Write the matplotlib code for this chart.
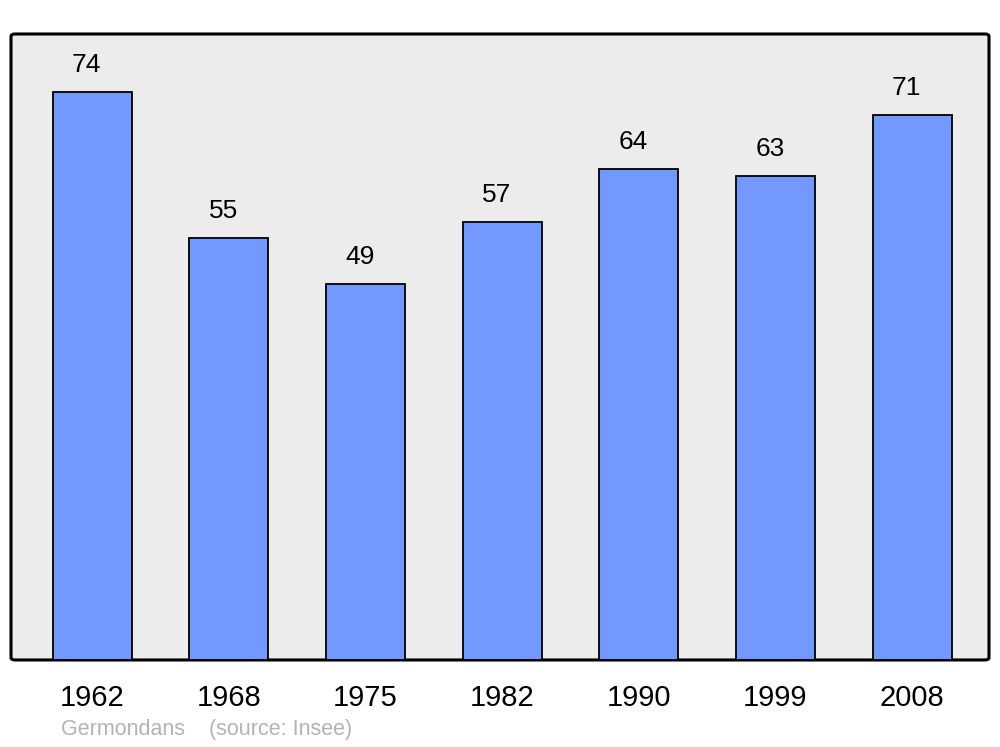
import matplotlib.pyplot as plt
from matplotlib.patches import FancyBboxPatch

plt.rcParams['font.family'] = ['Liberation Sans', 'DejaVu Sans']

years = ['1962', '1968', '1975', '1982', '1990', '1999', '2008']
population = [74, 55, 49, 57, 64, 63, 71]
source_text = 'Germondans    (source: Insee)'

fig = plt.figure(figsize=(10, 7.47), dpi=100)
ax = fig.add_axes([0.011, 0.1165, 0.978, 0.838])
ax.set_facecolor('none')

# cadre arrondi
frame = FancyBboxPatch((0, 0), 1, 1, boxstyle='round,pad=0,rounding_size=0.004',
                       transform=ax.transAxes, facecolor='#ececec',
                       edgecolor='black', linewidth=2.2, clip_on=False, zorder=0)
ax.add_patch(frame)

xs = range(len(years))
bars = ax.bar(xs, population, width=0.578, color='#7399ff',
              edgecolor='black', linewidth=1.3, zorder=2)

# valeurs au-dessus des barres
for x, v in zip(xs, population):
    ax.annotate(str(v), (x, v), xytext=(-4, 19.5), textcoords='offset points',
                ha='center', va='center', fontsize=19)

ax.set_xlim(-0.593, 6.563)
ax.set_ylim(0, 81.55)
ax.set_xticks(list(xs))
ax.set_xticklabels(years, fontsize=21)
ax.tick_params(axis='x', length=0, pad=17)
ax.set_yticks([])
for s in ax.spines.values():
    s.set_visible(False)

fig.text(0.061, 1 - 730 / 747, source_text, color='#b3b3b3',
         fontsize=15.5, va='center', ha='left')

fig.savefig('out.png', dpi=100)
